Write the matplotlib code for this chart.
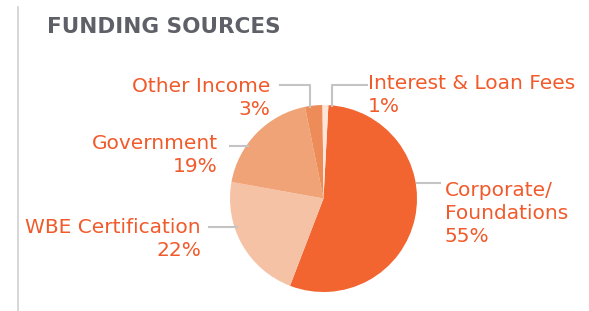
import matplotlib
matplotlib.use("Agg")
import matplotlib.pyplot as plt
from matplotlib.lines import Line2D

# data
labels = ["Corporate/\nFoundations", "WBE Certification", "Government", "Other Income", "Interest & Loan Fees"]
shares = [55, 22, 19, 3, 1]
colors = ["#F26531", "#F6C2A5", "#F0A376", "#EE8C59", "#FDE6D8"]

W, H = 589, 311
TXT = "#F15A2B"
GRID = "#C4C4C4"

fig = plt.figure(figsize=(W / 100, H / 100), dpi=100)


def fx(x):
    return x / W


def fy(y):
    # y measured from top in pixels
    return 1 - y / H


# pie axes (pixel box)
cx, cy, r = 323.5, 198.5, 93.5
ax = fig.add_axes([fx(cx - r), fy(cy + r), 2 * r / W, 2 * r / H])
ax.pie(shares, colors=colors, startangle=87, counterclock=False,
       wedgeprops=dict(linewidth=0))
ax.set_xlim(-1, 1)
ax.set_ylim(-1, 1)
ax.set_aspect("equal")
ax.axis("off")

# left rule + title
fig.add_artist(Line2D([fx(18), fx(18)], [fy(7), fy(311)], color="#D0D0D0", lw=1.2))
fig.text(fx(47), fy(33), "FUNDING SOURCES", fontsize=15.5, fontweight="bold",
         color="#5F6067", ha="left", va="baseline")

# label layout: (text x, last-line baseline y, ha, leader polyline)
layout = {
    "Corporate/\nFoundations": (445, 242, "left", [(417, 183), (440, 183)]),
    "WBE Certification": (201, 256, "right", [(209, 227), (237, 227)]),
    "Government": (218, 172, "right", [(230, 146), (248, 146)]),
    "Other Income": (270, 115, "right", [(280, 85), (310, 85), (310, 107)]),
    "Interest & Loan Fees": (368, 112, "left", [(367, 85), (332, 85), (332, 106)]),
}

for lab, pct in zip(labels, shares):
    x, y, ha, pts = layout[lab]
    fig.text(fx(x), fy(y), f"{lab}\n{pct}%", fontsize=14.5, color=TXT,
             ha=ha, va="baseline", linespacing=1.28, multialignment=ha)
    fig.add_artist(Line2D([fx(p[0]) for p in pts], [fy(p[1]) for p in pts],
                          color=GRID, lw=1.5))

fig.savefig("out.png", dpi=100, facecolor="white")
